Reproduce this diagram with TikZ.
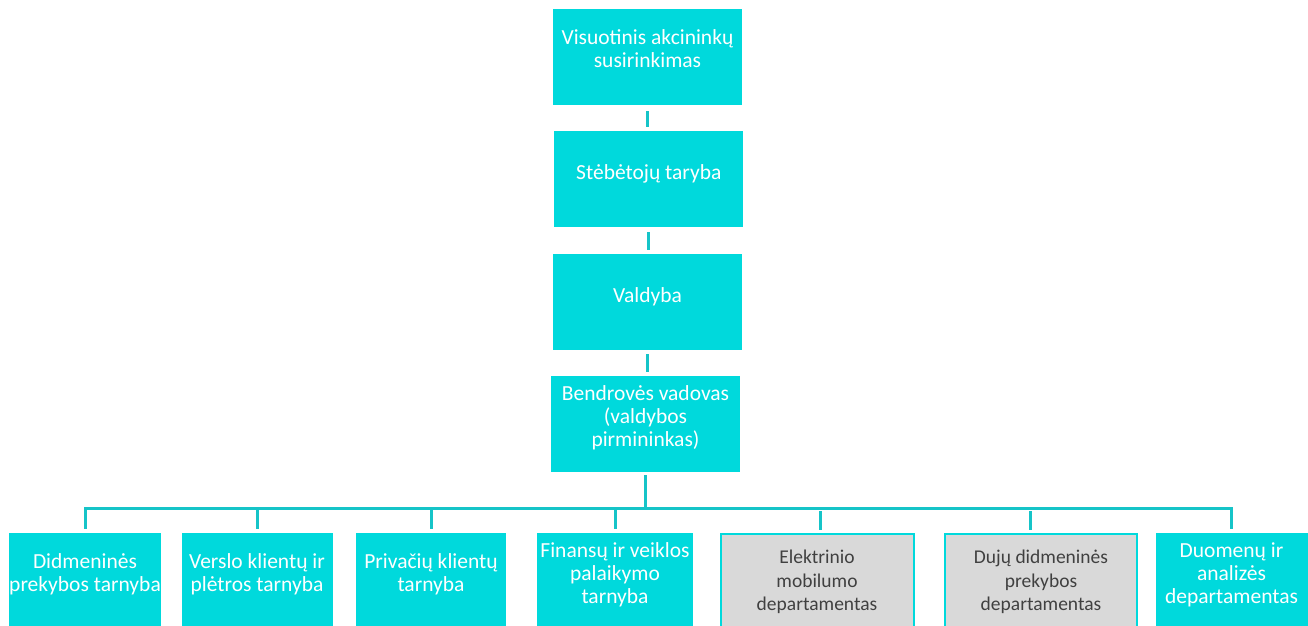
\documentclass[tikz,border=0pt]{standalone}
\usepackage{fontspec}
\setmainfont{Carlito}
\definecolor{boxcyan}{RGB}{0,217,220}
\definecolor{linecyan}{RGB}{22,196,200}
\definecolor{boxgray}{RGB}{217,217,217}
\definecolor{graytext}{RGB}{64,64,64}
\newcommand\linestrut{\rule[-16pt]{0pt}{32pt}}

\begin{document}
\begin{tikzpicture}[x=1pt, y=-1pt,
  box/.style={fill=boxcyan, text=white, align=center, inner sep=0pt,
    minimum width=#1, minimum height=96pt,
    font=\fontsize{21.5}{23}\selectfont,
    execute at begin node=\linestrut, execute at end node=\linestrut},
  graybox/.style={box=#1, fill=boxgray, draw=boxcyan, line width=2pt,
    text=graytext, minimum height=110pt, font=\fontsize{19.5}{23.3}\selectfont},
  link/.style={draw=linecyan, line width=3pt}]
  \useasboundingbox (0, 0) rectangle (1308, 625);

  % management chain
  \node[box=189pt] (susirinkimas) at (647.5, 57) {Visuotinis akcininkų\\susirinkimas};
  \node[box=189pt] (taryba) at (648.8, 179) {Stėbėtojų taryba};
  \node[box=189pt] (valdyba) at (647.5, 302) {Valdyba};
  \node[box=189pt] (vadovas) at (645.5, 424) {Bendrovės vadovas\\(valdybos\\pirmininkas)};

  % units
  \node[box=152pt, anchor=north] (didmenine) at (85, 532.5) {Didmeninės\\prekybos tarnyba};
  \node[box=151pt, anchor=north] (verslas) at (257, 532.5) {Verslo klientų ir\\plėtros tarnyba};
  \node[box=150pt, anchor=north] (privatus) at (431, 532.5) {Privačių klientų\\tarnyba};
  \node[box=156pt, anchor=north] (finansai) at (615, 532.5) {Finansų ir veiklos\\palaikymo\\tarnyba};
  \node[graybox=193pt, anchor=north] (elektra) at (817, 532.5) {Elektrinio\\mobilumo\\departamentas};
  \node[graybox=192pt, anchor=north] (dujos) at (1041, 532.5) {Dujų didmeninės\\prekybos\\departamentas};
  \node[box=152pt, anchor=north] (duomenys) at (1231.5, 532.5) {Duomenų ir\\analizės\\departamentas};

  \draw[link, shorten <=6pt, shorten >=4pt] (susirinkimas.south) -- (susirinkimas.south |- taryba.north);
  \draw[link, shorten <=5pt, shorten >=4pt] (taryba.south) -- (taryba.south |- valdyba.north);
  \draw[link, shorten <=4pt, shorten >=4pt] (valdyba.south) -- (valdyba.south |- vadovas.north);

  \coordinate (bus) at (645.5, 508);
  \coordinate (elektra top) at ([xshift=3pt]elektra.north);
  \coordinate (dujos top) at ([xshift=-11pt]dujos.north);
  \draw[link, shorten <=3pt] (vadovas.south) -- (vadovas.south |- bus);
  \draw[link, shorten <=4pt, shorten >=4pt] (didmenine.north) -- (didmenine.north |- bus)
    -- (duomenys.north |- bus) -- (duomenys.north);
  \foreach \unit in {verslas, privatus, finansai}
    \draw[link, shorten >=4pt] (\unit.north |- bus) -- (\unit.north);
  \foreach \unit in {elektra top, dujos top}
    \draw[link, shorten <=3pt, shorten >=3pt] (\unit |- bus) -- (\unit);
\end{tikzpicture}
\end{document}
